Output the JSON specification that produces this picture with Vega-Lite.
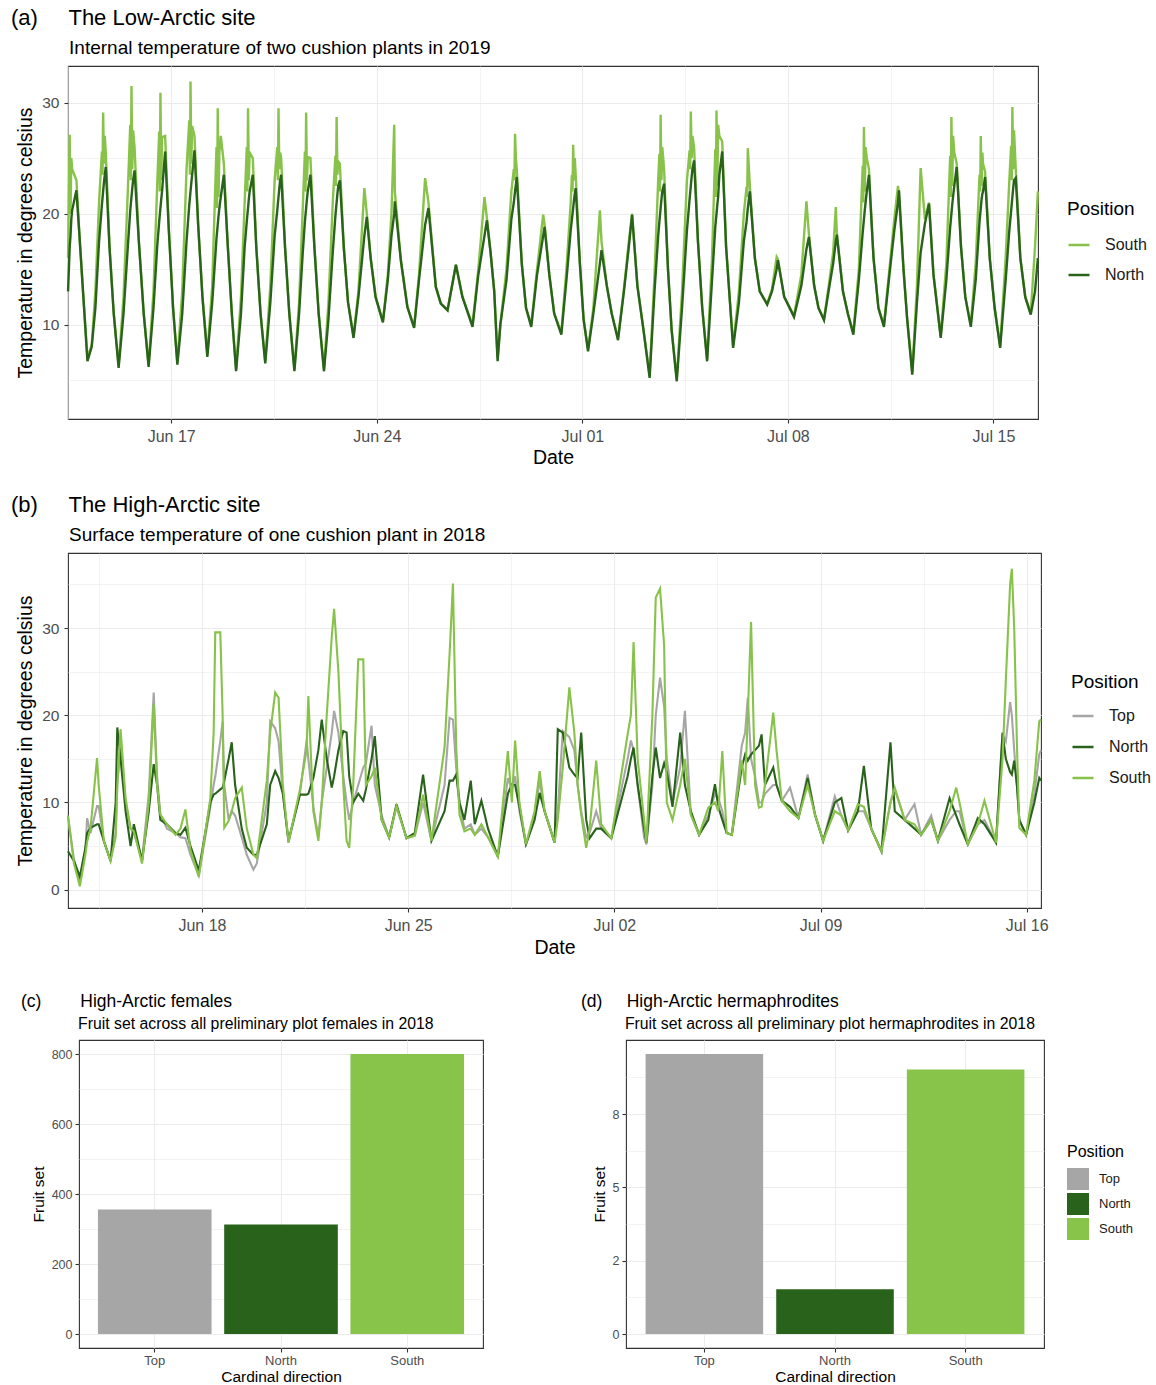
{
"$schema": "https://vega.github.io/schema/vega-lite/v6.json",
"background": "white",
"padding": {"left": 10, "top": 6, "right": 0, "bottom": 0},
"spacing": 34,
"config": {
  "font": "Liberation Sans",
  "view": {"stroke": "#333333", "strokeWidth": 1.1},
  "axis": {"domain": false, "tickColor": "#333333", "tickSize": 4, "tickWidth": 1.1, "labelColor": "#4D4D4D", "titleColor": "#000000", "titleFontWeight": "normal", "gridColor": "#EBEBEB", "labelFont": "Liberation Sans", "titleFont": "Liberation Sans"},
  "title": {"anchor": "start", "frame": "group", "fontWeight": "normal", "color": "#000000", "subtitleColor": "#000000", "font": "Liberation Sans", "subtitleFont": "Liberation Sans"},
  "legend": {"titleFontWeight": "normal", "titleColor": "#000000", "labelColor": "#1A1A1A", "padding": 0, "titleFont": "Liberation Sans", "labelFont": "Liberation Sans"}
},
"resolve": {"scale": {"color": "independent"}, "legend": {"color": "independent"}},
"vconcat": [
{
"spacing": 25,
"resolve": {"scale": {"color": "independent"}, "legend": {"color": "independent"}},
"vconcat": [
{
  "width": 970, "height": 353,
  "title": {"text": "(a)\u00a0\u00a0\u00a0\u00a0\u00a0The Low-Arctic site", "subtitle": "\u200b\u00a0\u00a0\u00a0\u00a0\u00a0\u00a0\u00a0\u00a0\u00a0\u00a0\u00a0Internal temperature of two cushion plants in 2019", "dx": -57, "fontSize": 22, "subtitleFontSize": 19, "offset": 7, "subtitlePadding": 9},
  "data": {"values": [
{"t":"2019-06-13 11:40","N":13,"S":16},{"t":"2019-06-13 13:00","N":17,"S":27.1},{"t":"2019-06-13 15:00","N":20.3,"S":24},{"t":"2019-06-13 18:30","N":22.1,"S":23},{"t":"2019-06-13 21:00","N":18,"S":18},
{"t":"2019-06-14 00:00","N":12.8,"S":12.8},{"t":"2019-06-14 03:30","N":6.7,"S":7},{"t":"2019-06-14 07:00","N":8,"S":8.2},{"t":"2019-06-14 10:00","N":11.5,"S":13},{"t":"2019-06-14 13:00","N":17.5,"S":21},{"t":"2019-06-14 16:20","N":22,"S":29.1},{"t":"2019-06-14 18:30","N":24.2,"S":25.5},{"t":"2019-06-14 21:30","N":17,"S":17.2},
{"t":"2019-06-15 01:00","N":11,"S":11},{"t":"2019-06-15 05:00","N":6.1,"S":6.3},{"t":"2019-06-15 09:00","N":11,"S":12.5},{"t":"2019-06-15 12:30","N":17,"S":22},{"t":"2019-06-15 15:30","N":21.5,"S":31.5},{"t":"2019-06-15 18:00","N":23.9,"S":26},{"t":"2019-06-15 21:30","N":17.5,"S":17.6},
{"t":"2019-06-16 01:30","N":11,"S":11},{"t":"2019-06-16 05:30","N":6.2,"S":6.4},{"t":"2019-06-16 09:30","N":11.5,"S":13},{"t":"2019-06-16 12:30","N":17,"S":22.5},{"t":"2019-06-16 15:10","N":20.5,"S":30.9},{"t":"2019-06-16 19:00","N":25.6,"S":27},{"t":"2019-06-16 22:00","N":18.5,"S":18.7},
{"t":"2019-06-17 01:30","N":11.5,"S":11.5},{"t":"2019-06-17 05:00","N":6.4,"S":6.6},{"t":"2019-06-17 09:00","N":11,"S":13},{"t":"2019-06-17 12:30","N":17.5,"S":24},{"t":"2019-06-17 15:45","N":22,"S":31.9},{"t":"2019-06-17 19:00","N":25.7,"S":27},{"t":"2019-06-17 22:00","N":19,"S":19},
{"t":"2019-06-18 01:30","N":12.5,"S":12.5},{"t":"2019-06-18 05:30","N":7.1,"S":7.3},{"t":"2019-06-18 09:30","N":12,"S":13.5},{"t":"2019-06-18 14:00","N":19,"S":29.5},{"t":"2019-06-18 16:30","N":21.5,"S":27},{"t":"2019-06-18 19:00","N":23.5,"S":24.5},{"t":"2019-06-18 22:00","N":17.5,"S":17.5},
{"t":"2019-06-19 01:30","N":11,"S":11},{"t":"2019-06-19 05:00","N":5.8,"S":6},{"t":"2019-06-19 09:00","N":11,"S":12.5},{"t":"2019-06-19 12:00","N":17,"S":21},{"t":"2019-06-19 14:45","N":20.5,"S":29.5},{"t":"2019-06-19 18:40","N":23.5,"S":25},{"t":"2019-06-19 21:30","N":17,"S":17},
{"t":"2019-06-20 01:00","N":11,"S":11},{"t":"2019-06-20 04:50","N":6.5,"S":6.7},{"t":"2019-06-20 09:00","N":12,"S":13.5},{"t":"2019-06-20 12:30","N":18,"S":23},{"t":"2019-06-20 15:40","N":21.5,"S":29.5},{"t":"2019-06-20 17:50","N":23.5,"S":25},{"t":"2019-06-20 21:00","N":17,"S":17},
{"t":"2019-06-21 00:30","N":11,"S":11},{"t":"2019-06-21 04:40","N":5.8,"S":6},{"t":"2019-06-21 08:30","N":11,"S":12},{"t":"2019-06-21 11:30","N":16.5,"S":20.5},{"t":"2019-06-21 14:15","N":20.5,"S":29.1},{"t":"2019-06-21 17:45","N":23.5,"S":25},{"t":"2019-06-21 21:00","N":17,"S":17},
{"t":"2019-06-22 00:30","N":11,"S":11},{"t":"2019-06-22 04:50","N":5.8,"S":6},{"t":"2019-06-22 08:30","N":10.5,"S":12},{"t":"2019-06-22 12:00","N":16.5,"S":21},{"t":"2019-06-22 15:10","N":21,"S":28.7},{"t":"2019-06-22 17:50","N":23,"S":24.5},{"t":"2019-06-22 21:00","N":17,"S":17},
{"t":"2019-06-23 00:30","N":12,"S":12},{"t":"2019-06-23 05:00","N":8.8,"S":9},{"t":"2019-06-23 09:00","N":12.5,"S":13},{"t":"2019-06-23 13:50","N":18,"S":22.3},{"t":"2019-06-23 15:50","N":19.7,"S":20},{"t":"2019-06-23 19:00","N":16,"S":16},{"t":"2019-06-23 23:00","N":12.5,"S":12.5},
{"t":"2019-06-24 05:00","N":10.2,"S":10.3},{"t":"2019-06-24 09:00","N":14,"S":14.5},{"t":"2019-06-24 12:00","N":18,"S":20},{"t":"2019-06-24 14:15","N":20,"S":28},{"t":"2019-06-24 14:45","N":21.1,"S":22},{"t":"2019-06-24 19:40","N":15.8,"S":15.8},
{"t":"2019-06-25 01:00","N":11.6,"S":11.6},{"t":"2019-06-25 06:30","N":9.7,"S":9.8},{"t":"2019-06-25 10:30","N":14,"S":14.5},{"t":"2019-06-25 15:30","N":19,"S":23.2},{"t":"2019-06-25 18:15","N":20.5,"S":21},
{"t":"2019-06-26 00:15","N":13.4,"S":13.4},{"t":"2019-06-26 04:20","N":11.9,"S":11.9},{"t":"2019-06-26 09:50","N":11.3,"S":11.3},{"t":"2019-06-26 16:40","N":15.4,"S":15.4},{"t":"2019-06-26 22:00","N":12.5,"S":12.5},
{"t":"2019-06-27 06:15","N":9.8,"S":10},{"t":"2019-06-27 11:00","N":14.5,"S":15},{"t":"2019-06-27 16:00","N":18,"S":21.5},{"t":"2019-06-27 18:00","N":19.4,"S":19.6},{"t":"2019-06-27 21:00","N":16.5,"S":16.5},
{"t":"2019-06-28 00:00","N":13,"S":13},{"t":"2019-06-28 02:45","N":6.7,"S":7},{"t":"2019-06-28 05:00","N":10,"S":10},{"t":"2019-06-28 10:00","N":14,"S":15},{"t":"2019-06-28 14:00","N":19.5,"S":22},{"t":"2019-06-28 17:00","N":22,"S":27.2},{"t":"2019-06-28 18:25","N":23.3,"S":24},{"t":"2019-06-28 22:30","N":15.5,"S":15.5},
{"t":"2019-06-29 02:00","N":11.5,"S":11.5},{"t":"2019-06-29 06:15","N":9.8,"S":10},{"t":"2019-06-29 11:00","N":14.5,"S":15},{"t":"2019-06-29 16:00","N":18,"S":19.9},{"t":"2019-06-29 17:10","N":18.8,"S":19},{"t":"2019-06-29 21:00","N":14.5,"S":14.5},
{"t":"2019-06-30 01:00","N":11,"S":11},{"t":"2019-06-30 06:50","N":9.1,"S":9.3},{"t":"2019-06-30 11:00","N":14,"S":15},{"t":"2019-06-30 14:30","N":18.5,"S":21},{"t":"2019-06-30 16:30","N":20.5,"S":26.2},{"t":"2019-06-30 18:35","N":22.3,"S":23.5},{"t":"2019-06-30 22:00","N":15.5,"S":15.5},
{"t":"2019-07-01 01:00","N":10.5,"S":10.5},{"t":"2019-07-01 04:40","N":7.6,"S":7.8},{"t":"2019-07-01 09:00","N":11,"S":11.5},{"t":"2019-07-01 14:20","N":15.5,"S":20.3},{"t":"2019-07-01 15:40","N":16.7,"S":17.5},{"t":"2019-07-01 20:00","N":13.5,"S":13.5},
{"t":"2019-07-02 00:00","N":11,"S":11},{"t":"2019-07-02 05:10","N":8.6,"S":8.8},{"t":"2019-07-02 10:00","N":13,"S":13.2},{"t":"2019-07-02 14:00","N":17,"S":17.5},{"t":"2019-07-02 16:40","N":19.9,"S":20},{"t":"2019-07-02 21:00","N":13.5,"S":13.5},
{"t":"2019-07-03 02:00","N":9.5,"S":9.5},{"t":"2019-07-03 07:00","N":5.2,"S":5.5},{"t":"2019-07-03 11:00","N":13,"S":14.5},{"t":"2019-07-03 14:00","N":18,"S":23},{"t":"2019-07-03 16:00","N":20.5,"S":28.9},{"t":"2019-07-03 18:50","N":22.7,"S":24},{"t":"2019-07-03 22:00","N":15,"S":15},
{"t":"2019-07-04 01:00","N":9.5,"S":9.5},{"t":"2019-07-04 05:10","N":4.9,"S":5.1},{"t":"2019-07-04 09:30","N":11.5,"S":13},{"t":"2019-07-04 13:30","N":18.5,"S":23},{"t":"2019-07-04 16:40","N":22.5,"S":29.2},{"t":"2019-07-04 19:20","N":24.8,"S":26},{"t":"2019-07-04 22:30","N":17.5,"S":17.5},
{"t":"2019-07-05 02:00","N":11.5,"S":11.5},{"t":"2019-07-05 06:00","N":6.7,"S":6.9},{"t":"2019-07-05 10:00","N":14,"S":16},{"t":"2019-07-05 13:40","N":20,"S":29.3},{"t":"2019-07-05 16:00","N":23.5,"S":27},{"t":"2019-07-05 18:20","N":25.6,"S":26.5},{"t":"2019-07-05 21:30","N":17,"S":17},
{"t":"2019-07-06 03:15","N":7.9,"S":8.1},{"t":"2019-07-06 08:00","N":12,"S":13},{"t":"2019-07-06 12:00","N":17.5,"S":20},{"t":"2019-07-06 15:15","N":20.5,"S":25.9},{"t":"2019-07-06 16:55","N":22,"S":22.5},{"t":"2019-07-06 21:00","N":16,"S":16},
{"t":"2019-07-07 01:00","N":13,"S":13},{"t":"2019-07-07 07:05","N":11.8,"S":11.9},{"t":"2019-07-07 11:00","N":13,"S":13.2},{"t":"2019-07-07 14:50","N":15,"S":16.1},{"t":"2019-07-07 15:50","N":15.8,"S":15.9},{"t":"2019-07-07 21:00","N":12.5,"S":12.5},
{"t":"2019-07-08 05:00","N":10.7,"S":10.8},{"t":"2019-07-08 11:00","N":13.5,"S":14.5},{"t":"2019-07-08 15:10","N":16.8,"S":21.1},{"t":"2019-07-08 17:10","N":17.9,"S":18.2},{"t":"2019-07-08 21:30","N":13.5,"S":13.5},
{"t":"2019-07-09 01:00","N":11.5,"S":11.5},{"t":"2019-07-09 05:30","N":10.4,"S":10.5},{"t":"2019-07-09 10:00","N":13.5,"S":14},{"t":"2019-07-09 13:00","N":15.5,"S":16.5},{"t":"2019-07-09 15:10","N":17.5,"S":20.6},{"t":"2019-07-09 16:00","N":18.1,"S":18.3},{"t":"2019-07-09 21:00","N":13,"S":13},
{"t":"2019-07-10 01:00","N":11,"S":11},{"t":"2019-07-10 05:30","N":9.1,"S":9.3},{"t":"2019-07-10 10:00","N":14,"S":15},{"t":"2019-07-10 14:10","N":19.5,"S":27.8},{"t":"2019-07-10 16:30","N":22,"S":25},{"t":"2019-07-10 18:15","N":23.5,"S":24},{"t":"2019-07-10 22:00","N":16,"S":16},
{"t":"2019-07-11 02:00","N":11.5,"S":11.5},{"t":"2019-07-11 06:30","N":9.8,"S":10},{"t":"2019-07-11 11:00","N":14.5,"S":15},{"t":"2019-07-11 15:00","N":18.5,"S":19.5},{"t":"2019-07-11 18:00","N":21,"S":22.5},{"t":"2019-07-11 18:50","N":22.1,"S":21.5},{"t":"2019-07-11 22:30","N":15,"S":15},
{"t":"2019-07-12 01:30","N":10.5,"S":10.5},{"t":"2019-07-12 05:40","N":5.5,"S":5.7},{"t":"2019-07-12 09:30","N":12,"S":13.5},{"t":"2019-07-12 12:30","N":16.5,"S":24.1},{"t":"2019-07-12 16:00","N":19.1,"S":19.5},{"t":"2019-07-12 19:20","N":20.9,"S":21},{"t":"2019-07-12 23:00","N":14.5,"S":14.5},
{"t":"2019-07-13 04:55","N":8.8,"S":9},{"t":"2019-07-13 09:30","N":14,"S":15.5},{"t":"2019-07-13 13:40","N":20,"S":28.7},{"t":"2019-07-13 16:00","N":22.5,"S":25.5},{"t":"2019-07-13 18:00","N":24.2,"S":24.5},{"t":"2019-07-13 21:30","N":17,"S":17},
{"t":"2019-07-14 01:00","N":12.5,"S":12.5},{"t":"2019-07-14 05:30","N":9.8,"S":10},{"t":"2019-07-14 09:30","N":14,"S":15.5},{"t":"2019-07-14 13:40","N":20.5,"S":27},{"t":"2019-07-14 15:30","N":22,"S":24.5},{"t":"2019-07-14 17:10","N":23.3,"S":23.8},{"t":"2019-07-14 21:00","N":16,"S":16},
{"t":"2019-07-15 01:00","N":11.5,"S":11.5},{"t":"2019-07-15 05:30","N":7.9,"S":8.1},{"t":"2019-07-15 10:00","N":14,"S":16},{"t":"2019-07-15 13:00","N":18.5,"S":23},{"t":"2019-07-15 15:30","N":21.5,"S":29.6},{"t":"2019-07-15 18:15","N":23.2,"S":24},{"t":"2019-07-15 22:00","N":16,"S":16},
{"t":"2019-07-16 02:00","N":12.5,"S":12.5},{"t":"2019-07-16 06:30","N":10.9,"S":11},{"t":"2019-07-16 10:00","N":13,"S":17},{"t":"2019-07-16 12:20","N":16,"S":22},
{"t":"2019-06-13 13:40","N":18,"S":20},{"t":"2019-06-13 14:20","N":19.5,"S":25},
{"t":"2019-06-14 15:20","N":20.8,"S":25.6},{"t":"2019-06-14 15:50","N":21.4,"S":23.5},{"t":"2019-06-14 17:00","N":22.8,"S":24.5},{"t":"2019-06-14 17:40","N":23.5,"S":27},
{"t":"2019-06-15 14:30","N":20.3,"S":28},{"t":"2019-06-15 15:00","N":20.9,"S":23},{"t":"2019-06-15 16:10","N":22.3,"S":24},{"t":"2019-06-15 16:50","N":23,"S":27.5},
{"t":"2019-06-16 14:10","N":19.3,"S":27.4},{"t":"2019-06-16 14:40","N":19.9,"S":22},{"t":"2019-06-16 15:50","N":21.3,"S":23},{"t":"2019-06-16 16:30","N":22,"S":26.9},
{"t":"2019-06-17 14:45","N":20.8,"S":28.4},{"t":"2019-06-17 15:15","N":21.4,"S":23.5},{"t":"2019-06-17 16:25","N":22.8,"S":24.5},{"t":"2019-06-17 17:05","N":23.5,"S":27.9},
{"t":"2019-06-18 13:00","N":17.8,"S":26},{"t":"2019-06-18 13:30","N":18.4,"S":20.5},{"t":"2019-06-18 14:40","N":19.8,"S":21.5},{"t":"2019-06-18 15:20","N":20.5,"S":25.5},
{"t":"2019-06-19 13:45","N":19.3,"S":26},{"t":"2019-06-19 14:15","N":19.9,"S":22},{"t":"2019-06-19 15:25","N":21.3,"S":23},{"t":"2019-06-19 16:05","N":22,"S":25.5},
{"t":"2019-06-20 14:40","N":20.3,"S":26},{"t":"2019-06-20 15:10","N":20.9,"S":23},{"t":"2019-06-20 16:20","N":22.3,"S":24},{"t":"2019-06-20 17:00","N":23,"S":25.5},
{"t":"2019-06-21 13:15","N":19.3,"S":25.6},{"t":"2019-06-21 13:45","N":19.9,"S":22},{"t":"2019-06-21 14:55","N":21.3,"S":23},{"t":"2019-06-21 15:35","N":22,"S":25.1},
{"t":"2019-06-22 14:10","N":19.8,"S":25.2},{"t":"2019-06-22 14:40","N":20.4,"S":22.5},{"t":"2019-06-22 15:50","N":21.8,"S":23.5},{"t":"2019-06-22 16:30","N":22.5,"S":24.7},
{"t":"2019-06-28 16:00","N":21,"S":24},{"t":"2019-06-28 16:30","N":21.5,"S":23},{"t":"2019-06-28 17:40","N":22.6,"S":25},
{"t":"2019-06-30 15:30","N":19.5,"S":23.5},{"t":"2019-06-30 16:00","N":20,"S":22},{"t":"2019-06-30 17:10","N":21.2,"S":23},{"t":"2019-06-30 17:50","N":21.8,"S":25},
{"t":"2019-07-03 15:00","N":19.3,"S":25.4},{"t":"2019-07-03 15:30","N":19.9,"S":22},{"t":"2019-07-03 16:40","N":21.3,"S":23},{"t":"2019-07-03 17:20","N":22,"S":26},
{"t":"2019-07-04 15:40","N":21.3,"S":25.7},{"t":"2019-07-04 16:10","N":21.9,"S":24},{"t":"2019-07-04 17:20","N":23.3,"S":25},{"t":"2019-07-04 18:00","N":24,"S":27},
{"t":"2019-07-05 12:40","N":18.8,"S":25.8},{"t":"2019-07-05 13:10","N":19.4,"S":21.5},{"t":"2019-07-05 14:20","N":20.8,"S":22.5},{"t":"2019-07-05 15:00","N":21.5,"S":28},
{"t":"2019-07-06 14:15","N":19.3,"S":22.4},{"t":"2019-07-06 14:45","N":19.9,"S":21.5},
{"t":"2019-07-10 13:10","N":18.3,"S":24.3},{"t":"2019-07-10 13:40","N":18.9,"S":21},{"t":"2019-07-10 14:50","N":20.3,"S":22},{"t":"2019-07-10 15:30","N":21,"S":26},
{"t":"2019-07-13 12:40","N":18.8,"S":25.2},{"t":"2019-07-13 13:10","N":19.4,"S":21.5},{"t":"2019-07-13 14:20","N":20.8,"S":22.5},{"t":"2019-07-13 15:00","N":21.5,"S":27},
{"t":"2019-07-14 12:40","N":19.3,"S":23.5},{"t":"2019-07-14 13:10","N":19.9,"S":22},{"t":"2019-07-14 14:20","N":21.3,"S":22.5},{"t":"2019-07-14 15:00","N":21.8,"S":25.5},
{"t":"2019-07-15 14:30","N":20.3,"S":26.1},{"t":"2019-07-15 15:00","N":20.9,"S":23},{"t":"2019-07-15 16:10","N":22.3,"S":24},{"t":"2019-07-15 16:50","N":23,"S":27.5}
  ]},
  "encoding": {
    "x": {"field": "t", "type": "temporal",
      "scale": {"domain": [{"year": 2019, "month": 6, "date": 13, "hours": 11, "minutes": 37}, {"year": 2019, "month": 7, "date": 16, "hours": 12, "minutes": 26}]},
      "axis": {"title": "Date", "titleFontSize": 19.5, "labelFontSize": 16, "format": "%b %d", "labelFlush": false, "labelOverlap": false, "labelPadding": 5, "titlePadding": 4,
        "values": [{"year": 2019, "month": 6, "date": 13, "hours": 12}, {"year": 2019, "month": 6, "date": 17}, {"year": 2019, "month": 6, "date": 20, "hours": 12}, {"year": 2019, "month": 6, "date": 24}, {"year": 2019, "month": 6, "date": 27, "hours": 12}, {"year": 2019, "month": 7, "date": 1}, {"year": 2019, "month": 7, "date": 4, "hours": 12}, {"year": 2019, "month": 7, "date": 8}, {"year": 2019, "month": 7, "date": 11, "hours": 12}, {"year": 2019, "month": 7, "date": 15}],
        "labelExpr": "hours(datum.value) == 12 ? '' : datum.label",
        "tickOpacity": {"condition": {"test": "hours(datum.value) == 12", "value": 0}, "value": 1},
        "gridWidth": {"condition": {"test": "hours(datum.value) == 12", "value": 0.6}, "value": 1.1}}}
  },
  "layer": [
    {"mark": {"type": "line", "strokeWidth": 2.4},
     "encoding": {
       "y": {"field": "S", "type": "quantitative", "title": "Temperature in degrees celsius",
         "scale": {"domain": [1.5, 33.3], "nice": false, "zero": false},
         "axis": {"titleFontSize": 19.5, "labelFontSize": 15.5, "labelPadding": 5, "titlePadding": 6, "values": [5, 10, 15, 20, 25, 30],
           "labelExpr": "datum.value % 10 == 0 ? datum.label : ''",
           "tickOpacity": {"condition": {"test": "datum.value % 10 == 0", "value": 1}, "value": 0},
           "gridWidth": {"condition": {"test": "datum.value % 10 == 0", "value": 1.1}, "value": 0.6}}},
       "color": {"datum": "South", "type": "nominal",
         "scale": {"domain": ["South", "North"], "range": ["#88C24A", "#29631B"]},
         "legend": {"orient": "none", "legendX": 999, "legendY": 134, "title": "Position", "titleFontSize": 19, "titlePadding": 14, "labelFontSize": 16, "symbolType": "stroke", "symbolSize": 441, "symbolStrokeWidth": 2.5, "labelOffset": 14, "rowPadding": 10}}
     }},
    {"mark": {"type": "line", "strokeWidth": 2.4},
     "encoding": {
       "y": {"field": "N", "type": "quantitative", "title": "Temperature in degrees celsius"},
       "color": {"datum": "North", "type": "nominal"}
     }}
  ]
},
{
  "width": 973, "height": 355,
  "title": {"text": "(b)\u00a0\u00a0\u00a0\u00a0\u00a0The High-Arctic site", "subtitle": "\u200b\u00a0\u00a0\u00a0\u00a0\u00a0\u00a0\u00a0\u00a0\u00a0\u00a0\u00a0Surface temperature of one cushion plant in 2018", "dx": -57, "fontSize": 22, "subtitleFontSize": 19, "offset": 7, "subtitlePadding": 9},
  "data": {"values": [
{"t":"2018-06-13 10:50","T":8.4,"N":4.4,"S":8.5},{"t":"2018-06-13 15:40","T":3.5,"N":3.3,"S":3},{"t":"2018-06-13 20:30","T":1,"N":1.5,"S":0.4},
{"t":"2018-06-14 01:00","T":4.5,"N":4.8,"S":4},{"t":"2018-06-14 02:25","T":8.2,"N":6.5,"S":5.5},{"t":"2018-06-14 05:10","T":6.5,"N":7.1,"S":7},{"t":"2018-06-14 10:30","T":9.6,"N":7.5,"S":15.1},{"t":"2018-06-14 11:50","T":9.6,"N":7.5,"S":12},{"t":"2018-06-14 16:00","T":5.6,"N":5.6,"S":5.6},{"t":"2018-06-14 21:30","T":3.3,"N":3.3,"S":3.3},
{"t":"2018-06-15 01:40","T":6.5,"N":10,"S":6},{"t":"2018-06-15 03:00","T":12,"N":18.6,"S":12},{"t":"2018-06-15 05:40","T":16.3,"N":15,"S":18.4},{"t":"2018-06-15 09:45","T":10,"N":9,"S":10.5},{"t":"2018-06-15 13:50","T":7,"N":5,"S":7},{"t":"2018-06-15 16:30","T":6.5,"N":7.5,"S":6.7},{"t":"2018-06-15 23:10","T":3.5,"N":3.3,"S":3},
{"t":"2018-06-16 04:40","T":11,"N":9,"S":10},{"t":"2018-06-16 08:40","T":22.6,"N":14.4,"S":21.3},{"t":"2018-06-16 11:25","T":13,"N":12,"S":12},{"t":"2018-06-16 14:05","T":8.6,"N":8,"S":8.6},{"t":"2018-06-16 19:30","T":7,"N":7.5,"S":7.5},
{"t":"2018-06-17 02:25","T":6.5,"N":6.5,"S":6.3},{"t":"2018-06-17 06:30","T":6,"N":6.3,"S":7},{"t":"2018-06-17 10:30","T":5.9,"N":7.1,"S":9.2},{"t":"2018-06-17 14:40","T":4,"N":5,"S":4.5},{"t":"2018-06-17 21:25","T":1.6,"N":2.2,"S":1.5},
{"t":"2018-06-18 06:50","T":9.5,"N":10,"S":10.5},{"t":"2018-06-18 09:30","T":12,"N":10.9,"S":18},{"t":"2018-06-18 10:50","T":13,"N":11,"S":29.5},{"t":"2018-06-18 14:55","T":17,"N":11.5,"S":29.5},{"t":"2018-06-18 16:50","T":19.3,"N":11.7,"S":20},{"t":"2018-06-18 18:10","T":12,"N":12.5,"S":7.1},{"t":"2018-06-18 21:45","T":8,"N":15,"S":7.9},
{"t":"2018-06-19 00:15","T":9,"N":16.9,"S":9},{"t":"2018-06-19 03:00","T":8.5,"N":12,"S":10.5},{"t":"2018-06-19 08:25","T":6,"N":7,"S":11.7},{"t":"2018-06-19 12:30","T":4,"N":4.8,"S":7},{"t":"2018-06-19 17:55","T":2.3,"N":4,"S":4},{"t":"2018-06-19 20:40","T":3,"N":4,"S":3.6},
{"t":"2018-06-20 04:50","T":10,"N":7.5,"S":12.5},{"t":"2018-06-20 07:35","T":19.3,"N":12,"S":18},{"t":"2018-06-20 11:40","T":18.5,"N":13.6,"S":22.6},{"t":"2018-06-20 14:25","T":17,"N":12.8,"S":22},{"t":"2018-06-20 17:55","T":11,"N":11,"S":12},{"t":"2018-06-20 22:30","T":5.4,"N":5.6,"S":5.4},
{"t":"2018-06-21 07:50","T":11,"N":10.9,"S":11.5},{"t":"2018-06-21 13:15","T":17.1,"N":10.9,"S":16},{"t":"2018-06-21 14:40","T":15,"N":11,"S":22.2},{"t":"2018-06-21 18:45","T":9.5,"N":12.8,"S":9},{"t":"2018-06-21 22:50","T":6,"N":16,"S":5.6},
{"t":"2018-06-22 01:35","T":10,"N":19.5,"S":10},{"t":"2018-06-22 05:40","T":14,"N":15,"S":20},{"t":"2018-06-22 09:45","T":18,"N":11.7,"S":29},{"t":"2018-06-22 11:40","T":20.5,"N":13,"S":32.2},{"t":"2018-06-22 15:10","T":18,"N":16,"S":25},{"t":"2018-06-22 19:10","T":13,"N":18.2,"S":12},{"t":"2018-06-22 21:50","T":10,"N":18,"S":5.6},
{"t":"2018-06-23 00:00","T":8,"N":13,"S":4.8},{"t":"2018-06-23 03:15","T":10,"N":10,"S":12},{"t":"2018-06-23 07:20","T":12,"N":11,"S":26.4},{"t":"2018-06-23 11:25","T":14,"N":10.2,"S":26.4},{"t":"2018-06-23 13:35","T":14.5,"N":11.5,"S":12},{"t":"2018-06-23 18:10","T":18.8,"N":15,"S":13},{"t":"2018-06-23 20:50","T":12,"N":17.6,"S":14},
{"t":"2018-06-24 02:25","T":8.5,"N":8,"S":8},{"t":"2018-06-24 08:30","T":6,"N":6,"S":6},{"t":"2018-06-24 14:30","T":9.5,"N":9.8,"S":9.6},{"t":"2018-06-24 22:40","T":5.9,"N":5.9,"S":5.9},
{"t":"2018-06-25 05:25","T":6.2,"N":6.5,"S":6.2},{"t":"2018-06-25 12:10","T":10,"N":13.2,"S":10.9},{"t":"2018-06-25 19:00","T":5.6,"N":5.6,"S":5.6},
{"t":"2018-06-26 05:40","T":12,"N":9,"S":16.3},{"t":"2018-06-26 09:45","T":19.7,"N":12.5,"S":27},{"t":"2018-06-26 12:30","T":19.5,"N":12.5,"S":35.1},{"t":"2018-06-26 15:10","T":14,"N":13.2,"S":16.3},{"t":"2018-06-26 17:50","T":10,"N":10,"S":8.6},{"t":"2018-06-26 21:50","T":7,"N":8,"S":6.7},
{"t":"2018-06-27 03:00","T":7.5,"N":12.5,"S":7},{"t":"2018-06-27 06:15","T":6.3,"N":7.5,"S":6.3},{"t":"2018-06-27 11:40","T":7,"N":10.2,"S":7.5},{"t":"2018-06-27 17:05","T":6,"N":7,"S":6},
{"t":"2018-06-28 01:05","T":3.8,"N":3.8,"S":3.8},{"t":"2018-06-28 09:15","T":12.8,"N":11,"S":15.9},{"t":"2018-06-28 12:30","T":11.5,"N":12.1,"S":10},{"t":"2018-06-28 15:10","T":13,"N":12,"S":17.1},{"t":"2018-06-28 18:40","T":9,"N":9.5,"S":10},
{"t":"2018-06-29 00:00","T":5.2,"N":5.2,"S":5.2},{"t":"2018-06-29 07:00","T":8.5,"N":8,"S":9},{"t":"2018-06-29 11:10","T":12.5,"N":11.1,"S":13.6},{"t":"2018-06-29 15:10","T":9,"N":9,"S":9},{"t":"2018-06-29 23:20","T":5.4,"N":5.4,"S":5.4},
{"t":"2018-06-30 01:55","T":9,"N":18.4,"S":8},{"t":"2018-06-30 06:00","T":18.2,"N":18,"S":14},{"t":"2018-06-30 11:20","T":17.5,"N":14,"S":23.2},{"t":"2018-06-30 15:25","T":16,"N":13.2,"S":18},{"t":"2018-06-30 18:05","T":12,"N":12.8,"S":12},{"t":"2018-06-30 21:00","T":9,"N":18,"S":8.6},
{"t":"2018-07-01 01:05","T":6,"N":8,"S":4.8},{"t":"2018-07-01 03:50","T":6.5,"N":5.9,"S":7},{"t":"2018-07-01 09:15","T":9,"N":7,"S":14.8},{"t":"2018-07-01 13:20","T":7,"N":7,"S":7.5},{"t":"2018-07-01 21:30","T":5.9,"N":5.9,"S":5.9},
{"t":"2018-07-02 10:50","T":15,"N":13,"S":17.8},{"t":"2018-07-02 13:30","T":17.1,"N":15,"S":20},{"t":"2018-07-02 15:40","T":16,"N":16.3,"S":28.4},{"t":"2018-07-02 19:00","T":12,"N":12,"S":15},
{"t":"2018-07-03 00:15","T":6,"N":7,"S":8},{"t":"2018-07-03 02:10","T":5.2,"N":5.4,"S":5.4},{"t":"2018-07-03 07:00","T":12,"N":13,"S":20},{"t":"2018-07-03 09:45","T":20,"N":16.3,"S":33.5},{"t":"2018-07-03 13:15","T":24.3,"N":12.8,"S":34.5},{"t":"2018-07-03 16:35","T":21,"N":14.5,"S":28},{"t":"2018-07-03 18:45","T":15,"N":13.5,"S":10},{"t":"2018-07-03 23:25","T":10,"N":9.5,"S":8},
{"t":"2018-07-04 05:40","T":14,"N":18,"S":12},{"t":"2018-07-04 09:30","T":20.5,"N":12,"S":15},{"t":"2018-07-04 14:20","T":8.6,"N":9,"S":8.6},{"t":"2018-07-04 21:05","T":6.3,"N":6.3,"S":6.3},
{"t":"2018-07-05 04:35","T":8.5,"N":8,"S":9.4},{"t":"2018-07-05 10:00","T":11,"N":12.1,"S":10},{"t":"2018-07-05 12:45","T":10.5,"N":9.5,"S":9},{"t":"2018-07-05 16:00","T":9,"N":8,"S":15.9},{"t":"2018-07-05 19:30","T":6.5,"N":6.5,"S":6.5},{"t":"2018-07-05 23:45","T":6.3,"N":6.3,"S":6.3},
{"t":"2018-07-06 07:50","T":16.5,"N":14,"S":14.8},{"t":"2018-07-06 10:35","T":18,"N":15.5,"S":12},{"t":"2018-07-06 12:45","T":22,"N":14.8,"S":20},{"t":"2018-07-06 15:25","T":15,"N":15.5,"S":30.7},{"t":"2018-07-06 18:40","T":13,"N":16,"S":12},{"t":"2018-07-06 21:50","T":10,"N":16.5,"S":9.4},
{"t":"2018-07-07 00:00","T":10,"N":17.8,"S":9.5},{"t":"2018-07-07 02:45","T":11,"N":12,"S":12},{"t":"2018-07-07 09:30","T":12,"N":14,"S":20.3},{"t":"2018-07-07 12:10","T":12,"N":12,"S":16},{"t":"2018-07-07 16:25","T":10.2,"N":10.2,"S":10.2},{"t":"2018-07-07 23:10","T":11.7,"N":9.5,"S":9},
{"t":"2018-07-08 06:00","T":8.2,"N":8.2,"S":8.2},{"t":"2018-07-08 13:30","T":13.2,"N":12.8,"S":12},{"t":"2018-07-08 19:30","T":8.6,"N":8.6,"S":8.6},
{"t":"2018-07-09 02:10","T":5.6,"N":5.6,"S":5.6},{"t":"2018-07-09 11:40","T":10.7,"N":10,"S":9},{"t":"2018-07-09 17:00","T":8.5,"N":10.5,"S":8.5},{"t":"2018-07-09 22:30","T":6.8,"N":6.8,"S":6.8},
{"t":"2018-07-10 06:30","T":9,"N":9,"S":9.8},{"t":"2018-07-10 11:20","T":9,"N":14.2,"S":9.5},{"t":"2018-07-10 17:20","T":7,"N":7,"S":7},
{"t":"2018-07-11 01:40","T":4.4,"N":4.4,"S":4.4},{"t":"2018-07-11 09:00","T":10,"N":16.9,"S":10},{"t":"2018-07-11 12:30","T":11.5,"N":9,"S":11.7},{"t":"2018-07-11 20:35","T":8,"N":8,"S":8},
{"t":"2018-07-12 04:35","T":9.8,"N":7,"S":7.5},{"t":"2018-07-12 10:00","T":6.3,"N":6.3,"S":6.3},{"t":"2018-07-12 18:10","T":8.5,"N":8,"S":8},{"t":"2018-07-12 23:40","T":5.6,"N":5.6,"S":5.6},
{"t":"2018-07-13 09:10","T":8,"N":10.5,"S":9},{"t":"2018-07-13 14:35","T":9,"N":8.5,"S":11.7},{"t":"2018-07-13 17:15","T":9,"N":7.5,"S":10},
{"t":"2018-07-14 00:00","T":5.2,"N":5.2,"S":5.2},{"t":"2018-07-14 08:10","T":7.5,"N":8.2,"S":7.5},{"t":"2018-07-14 13:35","T":8,"N":7.5,"S":10.2},{"t":"2018-07-14 23:00","T":5.4,"N":5.4,"S":5.4},
{"t":"2018-07-15 04:20","T":17.8,"N":18,"S":15},{"t":"2018-07-15 07:00","T":17,"N":15,"S":24},{"t":"2018-07-15 10:30","T":21.5,"N":13.5,"S":35},{"t":"2018-07-15 11:55","T":20,"N":13.2,"S":36.8},{"t":"2018-07-15 13:50","T":16,"N":14.8,"S":30},{"t":"2018-07-15 16:00","T":12,"N":12,"S":17},{"t":"2018-07-15 18:00","T":8,"N":8,"S":7.1},{"t":"2018-07-15 23:30","T":6.3,"N":6.3,"S":6.3},
{"t":"2018-07-16 06:15","T":11,"N":10,"S":12.5},{"t":"2018-07-16 10:15","T":15.5,"N":12.8,"S":19.3},{"t":"2018-07-16 11:40","T":16,"N":12.5,"S":19.5}
  ]},
  "encoding": {
    "x": {"field": "t", "type": "temporal",
      "scale": {"domain": [{"year": 2018, "month": 6, "date": 13, "hours": 10, "minutes": 50}, {"year": 2018, "month": 7, "date": 16, "hours": 11, "minutes": 40}]},
      "axis": {"title": "Date", "titleFontSize": 19.5, "labelFontSize": 16, "format": "%b %d", "labelFlush": false, "labelOverlap": false, "labelPadding": 5, "titlePadding": 5,
        "values": [{"year": 2018, "month": 6, "date": 14, "hours": 12}, {"year": 2018, "month": 6, "date": 18}, {"year": 2018, "month": 6, "date": 21, "hours": 12}, {"year": 2018, "month": 6, "date": 25}, {"year": 2018, "month": 6, "date": 28, "hours": 12}, {"year": 2018, "month": 7, "date": 2}, {"year": 2018, "month": 7, "date": 5, "hours": 12}, {"year": 2018, "month": 7, "date": 9}, {"year": 2018, "month": 7, "date": 12, "hours": 12}, {"year": 2018, "month": 7, "date": 16}],
        "labelExpr": "hours(datum.value) == 12 ? '' : datum.label",
        "tickOpacity": {"condition": {"test": "hours(datum.value) == 12", "value": 0}, "value": 1},
        "gridWidth": {"condition": {"test": "hours(datum.value) == 12", "value": 0.6}, "value": 1.1}}}
  },
  "layer": [
    {"mark": {"type": "line", "strokeWidth": 2.1},
     "encoding": {
       "y": {"field": "T", "type": "quantitative", "title": "Temperature in degrees celsius",
         "scale": {"domain": [-2.1, 38.6], "nice": false, "zero": false},
         "axis": {"titleFontSize": 19.5, "labelFontSize": 15.5, "labelPadding": 5, "titlePadding": 6, "values": [0, 5, 10, 15, 20, 25, 30, 35],
           "labelExpr": "datum.value % 10 == 0 ? datum.label : ''",
           "tickOpacity": {"condition": {"test": "datum.value % 10 == 0", "value": 1}, "value": 0},
           "gridWidth": {"condition": {"test": "datum.value % 10 == 0", "value": 1.1}, "value": 0.6}}},
       "color": {"datum": "Top", "type": "nominal",
         "scale": {"domain": ["Top", "North", "South"], "range": ["#A6A6A6", "#29631B", "#88C24A"]},
         "legend": {"orient": "none", "legendX": 1003, "legendY": 120, "title": "Position", "titleFontSize": 19, "titlePadding": 12, "labelFontSize": 16, "symbolType": "stroke", "symbolSize": 441, "symbolStrokeWidth": 2.5, "labelOffset": 14, "rowPadding": 11}}
     }},
    {"mark": {"type": "line", "strokeWidth": 2.1},
     "encoding": {
       "y": {"field": "N", "type": "quantitative", "title": "Temperature in degrees celsius"},
       "color": {"datum": "North", "type": "nominal"}
     }},
    {"mark": {"type": "line", "strokeWidth": 2.1},
     "encoding": {
       "y": {"field": "S", "type": "quantitative", "title": "Temperature in degrees celsius"},
       "color": {"datum": "South", "type": "nominal"}
     }}
  ]
}
]
},
{
  "spacing": 10,
  "bounds": "flush",
  "resolve": {"scale": {"color": "independent"}, "legend": {"color": "independent"}},
  "hconcat": [
    {"width": 1, "height": 1, "view": {"stroke": null, "fill": null}, "data": {"values": [{"k": 0}]}, "mark": {"type": "point", "opacity": 0}, "encoding": {}},
    {
      "spacing": 96,
      "resolve": {"scale": {"color": "independent"}, "legend": {"color": "independent"}},
      "hconcat": [
        {
          "width": 404, "height": 308,
          "title": {"text": "(c)\u00a0\u00a0\u00a0\u00a0\u00a0\u00a0\u00a0\u00a0High-Arctic females", "subtitle": "\u200b\u00a0\u00a0\u00a0\u00a0\u00a0\u00a0\u00a0\u00a0\u00a0\u00a0\u00a0\u00a0\u00a0Fruit set across all preliminary plot females in 2018", "dx": -58, "fontSize": 17.5, "subtitleFontSize": 15.8, "offset": 8, "subtitlePadding": 7},
          "data": {"values": [{"Position": "Top", "fruit": 356}, {"Position": "North", "fruit": 313}, {"Position": "South", "fruit": 800}]},
          "mark": {"type": "bar"},
          "encoding": {
            "x": {"field": "Position", "type": "nominal", "sort": ["Top", "North", "South"], "title": "Cardinal direction",
              "scale": {"paddingInner": 0.1, "paddingOuter": 0.15},
              "axis": {"labelAngle": 0, "bandPosition": 0.5, "grid": true, "gridWidth": 1.1, "labelFontSize": 13, "titleFontSize": 15.5, "labelPadding": 2, "titlePadding": 2}},
            "y": {"field": "fruit", "type": "quantitative", "title": "Fruit set",
              "scale": {"domain": [-40, 840], "nice": false, "zero": false},
              "axis": {"values": [0, 100, 200, 300, 400, 500, 600, 700, 800], "labelFontSize": 12.5, "titleFontSize": 15.5, "labelPadding": 3, "titlePadding": 5,
                "labelExpr": "datum.value % 200 == 0 ? datum.label : ''",
                "tickOpacity": {"condition": {"test": "datum.value % 200 == 0", "value": 1}, "value": 0},
                "gridWidth": {"condition": {"test": "datum.value % 200 == 0", "value": 1.1}, "value": 0.6}}},
            "color": {"field": "Position", "type": "nominal", "scale": {"domain": ["Top", "North", "South"], "range": ["#A6A6A6", "#28621B", "#88C34A"]}, "legend": null}
          }
        },
        {
          "width": 418, "height": 308,
          "title": {"text": "(d)\u00a0\u00a0\u00a0\u00a0\u00a0High-Arctic hermaphrodites", "subtitle": "\u200b\u00a0\u00a0\u00a0\u00a0\u00a0\u00a0\u00a0\u00a0\u00a0\u00a0Fruit set across all preliminary plot hermaphrodites in 2018", "dx": -45, "fontSize": 17.5, "subtitleFontSize": 15.8, "offset": 8, "subtitlePadding": 7},
          "data": {"values": [{"Position": "Top", "fruit": 9.55}, {"Position": "North", "fruit": 1.53}, {"Position": "South", "fruit": 9.02}]},
          "mark": {"type": "bar"},
          "encoding": {
            "x": {"field": "Position", "type": "nominal", "sort": ["Top", "North", "South"], "title": "Cardinal direction",
              "scale": {"paddingInner": 0.1, "paddingOuter": 0.15},
              "axis": {"labelAngle": 0, "bandPosition": 0.5, "grid": true, "gridWidth": 1.1, "labelFontSize": 13, "titleFontSize": 15.5, "labelPadding": 2, "titlePadding": 2}},
            "y": {"field": "fruit", "type": "quantitative", "title": "Fruit set",
              "scale": {"domain": [-0.4775, 10.0275], "nice": false, "zero": false},
              "axis": {"values": [0, 1.25, 2.5, 3.75, 5, 6.25, 7.5, 8.75], "labelFontSize": 12.5, "titleFontSize": 15.5, "labelPadding": 3, "titlePadding": 5,
                "labelExpr": "datum.value == 0 ? '0' : datum.value == 2.5 ? '2' : datum.value == 5 ? '5' : datum.value == 7.5 ? '8' : ''",
                "tickOpacity": {"condition": {"test": "datum.value % 2.5 == 0", "value": 1}, "value": 0},
                "gridWidth": {"condition": {"test": "datum.value % 2.5 == 0", "value": 1.1}, "value": 0.6}}},
            "color": {"field": "Position", "type": "nominal", "scale": {"domain": ["Top", "North", "South"], "range": ["#A6A6A6", "#28621B", "#88C34A"]},
              "legend": {"orient": "none", "legendX": 441, "legendY": 104, "title": "Position", "titleFontSize": 16, "titlePadding": 8, "labelFontSize": 13, "symbolType": "square", "symbolSize": 484, "symbolStrokeWidth": 0, "labelOffset": 10, "rowPadding": 3}}
          }
        }
      ]
    }
  ]
}
]
}
